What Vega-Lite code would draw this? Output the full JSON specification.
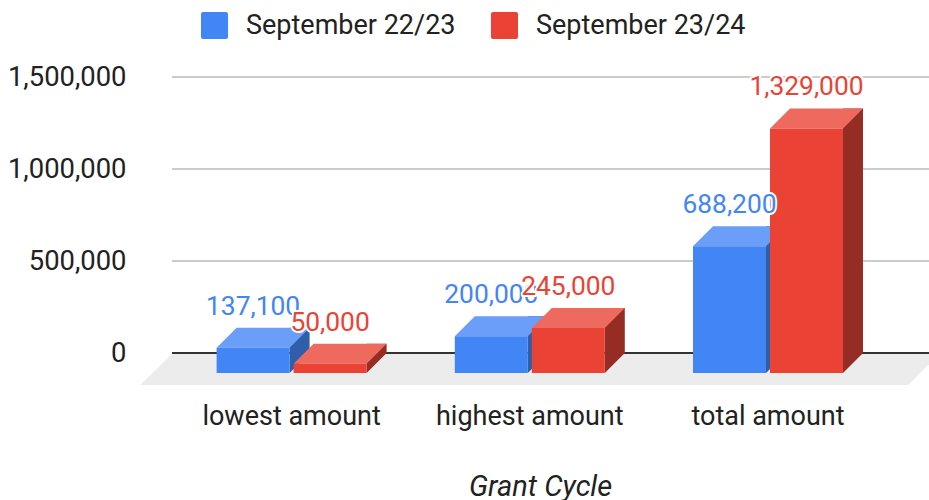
{
"$schema":"https://vega.github.io/schema/vega-lite/v6.json",
"width":757,"height":276,"autosize":"none",
"padding":{"left":172,"top":77,"right":0,"bottom":147},
"background":"white",
"config":{"font":"Roboto","view":{"stroke":null}},
"data":{"values":[
{"category":"lowest amount","series":"September 22/23","value":137100},
{"category":"lowest amount","series":"September 23/24","value":50000},
{"category":"highest amount","series":"September 22/23","value":200000},
{"category":"highest amount","series":"September 23/24","value":245000},
{"category":"total amount","series":"September 22/23","value":688200},
{"category":"total amount","series":"September 23/24","value":1329000}
]},
"encoding":{
"x":{"field":"category","type":"nominal","sort":null,"scale":{"domain":["lowest amount","highest amount","total amount"],"range":[0.5,715.1],"paddingInner":0,"paddingOuter":0},
"axis":{"title":"Grant Cycle","titleFontSize":29,"titleFontStyle":"italic","titleFontWeight":"normal","titleColor":"#222222","titlePadding":43,"labelAngle":0,"labelFontSize":27,"labelColor":"#222222","labelPadding":50,"labelLimit":400,"ticks":false,"domain":false,"titleX":368}},
"y":{"field":"value","type":"quantitative","scale":{"domain":[0,1500000],"nice":false},
"axis":{"title":null,"values":[0,500000,1000000,1500000],"labelExpr":"format(datum.value, ',')","labelFontSize":27.4,"labelColor":"#222222","labelPadding":46,"labelLimit":400,"ticks":false,"domain":false,"grid":false}},
"xOffset":{"field":"series","type":"nominal","scale":{"paddingInner":0.052,"paddingOuter":0.573}}
},
"layer":[
{"data":{"values":[{"value":500000},{"value":1000000},{"value":1500000}]},"mark":{"type":"rule","color":"#cccccc","strokeWidth":2},"encoding":{"x":{"value":0},"x2":{"value":757},"xOffset":null}},
{"data":{"values":[{"category":"highest amount","value":0}]},"mark":{"type":"point","filled":true,"size":4,"opacity":1,"color":"#ececec","shape":"M-389.5,32L-357,0L410.5,0L378.5,32Z"},
 "encoding":{"xOffset":null}},
{"data":{"values":[{"value":0}]},"mark":{"type":"rule","color":"#333333","strokeWidth":2},"encoding":{"x":{"value":0},"x2":{"value":757},"xOffset":null}},
{"transform":[{"filter":"datum.series=='September 22/23'"}],"mark":{"type":"bar","width":20,"xOffset":8,"color":"#2f5faa"},
 "encoding":{"y2":{"datum":0},"xOffset":null}},
{"transform":[{"filter":"datum.series=='September 23/24'"}],"mark":{"type":"bar","width":20,"xOffset":85,"color":"#962d24"},
 "encoding":{"y2":{"datum":0},"xOffset":null}},
{"data":{"values":[
{"category":"lowest amount","series":"September 22/23","value":0},
{"category":"lowest amount","series":"September 23/24","value":0},
{"category":"highest amount","series":"September 22/23","value":0},
{"category":"highest amount","series":"September 23/24","value":0},
{"category":"total amount","series":"September 22/23","value":0},
{"category":"total amount","series":"September 23/24","value":0}
]},"mark":{"type":"point","filled":true,"size":4,"opacity":1,"shape":"M36.5,20L56.5,0L56.5,-1L36.5,-1Z"},
 "encoding":{"color":{"field":"series","type":"nominal","legend":null,"scale":{"domain":["September 22/23","September 23/24"],"range":["#2f5faa","#962d24"]}}}},
{"mark":{"type":"point","filled":true,"size":4,"opacity":1,"shape":"M-36.5,20L36.5,20L56.5,0L-16.5,0Z"},
 "encoding":{"color":{"field":"series","type":"nominal","legend":null,"scale":{"domain":["September 22/23","September 23/24"],"range":["#6a9ef8","#ee6a5e"]}}}},
{"mark":{"type":"bar","width":73,"yOffset":20,"y2Offset":20},
 "encoding":{"y2":{"datum":0},"color":{"field":"series","type":"nominal","title":null,"scale":{"domain":["September 22/23","September 23/24"],"range":["#4285f4","#ea4335"]},
 "legend":{"orient":"none","legendX":29,"legendY":-65,"direction":"horizontal","columns":2,"symbolType":"M-1,-0.85Q-1,-1,-0.85,-1L0.85,-1Q1,-1,1,-0.85L1,0.85Q1,1,0.85,1L-0.85,1Q-1,1,-1,0.85Z","symbolSize":729,"symbolStrokeWidth":0,"symbolOpacity":1,"labelFontSize":27,"labelColor":"#222222","labelOffset":18,"columnPadding":35,"labelLimit":400}}}},
{"transform":[{"filter":"datum.series=='September 22/23'"}],"mark":{"type":"text","fontSize":26.4,"baseline":"alphabetic","dy":-13,"color":"white","stroke":"white","strokeWidth":4,"strokeJoin":"round"},
 "encoding":{"text":{"field":"value","type":"quantitative","format":","}}},
{"transform":[{"filter":"datum.series=='September 22/23'"}],"mark":{"type":"text","fontSize":26.4,"baseline":"alphabetic","dy":-13,"color":"#4285f4"},
 "encoding":{"text":{"field":"value","type":"quantitative","format":","}}},
{"transform":[{"filter":"datum.series=='September 23/24'"}],"mark":{"type":"text","fontSize":26.4,"baseline":"alphabetic","dy":-13,"color":"white","stroke":"white","strokeWidth":4,"strokeJoin":"round"},
 "encoding":{"text":{"field":"value","type":"quantitative","format":","}}},
{"transform":[{"filter":"datum.series=='September 23/24'"}],"mark":{"type":"text","fontSize":26.4,"baseline":"alphabetic","dy":-13,"color":"#ea4335"},
 "encoding":{"text":{"field":"value","type":"quantitative","format":","}}}
],
"resolve":{"scale":{"color":"independent"}}
}
